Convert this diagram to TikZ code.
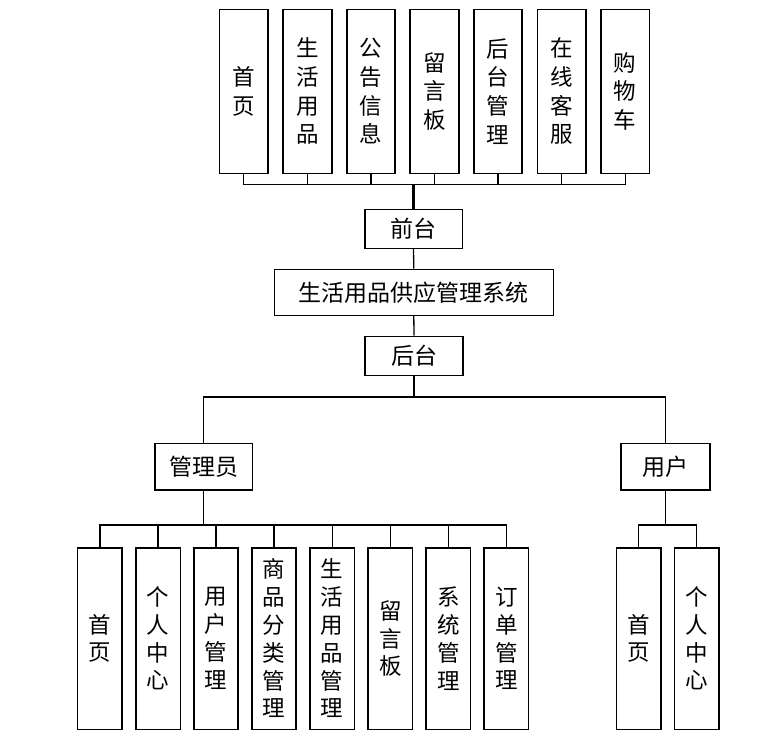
\documentclass[tikz,border=0pt]{standalone}
\usepackage{fontspec}
\newfontfamily\cjk{Noto Sans CJK SC}
\begin{document}
\begin{tikzpicture}[x=1pt,y=-1pt,
  box/.style={draw, line width=1.6pt, inner sep=0pt, align=center, fill=white},
  hbox/.style={box, font=\cjk\fontsize{23}{28}\selectfont},
  tbox/.style={box, minimum width=48.5pt, minimum height=164pt, font=\cjk\fontsize{22.5}{28.7}\selectfont},
  bbox/.style={box, minimum width=44.5pt, minimum height=181.6pt, font=\cjk\fontsize{22.5}{27.8}\selectfont},
  conn/.style={line width=1.3pt},
  trunk/.style={line width=2.4pt}]
\useasboundingbox (0,0) rectangle (770,740);
% top level
\node[tbox] (t1) at (243.8,91.3) {首\\页};
\node[tbox] (t2) at (307.5,91.3) {生\\活\\用\\品};
\node[tbox] (t3) at (371.0,91.3) {公\\告\\信\\息};
\node[tbox] (t4) at (434.5,91.3) {留\\言\\板};
\node[tbox] (t5) at (498.0,91.3) {后\\台\\管\\理};
\node[tbox] (t6) at (561.8,91.3) {在\\线\\客\\服};
\node[tbox] (t7) at (625.2,91.3) {购\\物\\车};
\coordinate (tb) at (413.5,184.3);
\node[hbox, minimum width=97.6pt, minimum height=39pt] (qt) at (413.5,228.8) {前台};
\node[hbox, minimum width=279pt, minimum height=46pt] (sys) at (413.8,292.3) {生活用品供应管理系统};
\node[hbox, minimum width=98.5pt, minimum height=39pt] (ht) at (414,355.8) {后台};
\coordinate (hb) at (414,397);
\node[hbox, minimum width=97.7pt, minimum height=46.7pt] (admin) at (203.7,466.7) {管理员};
\node[hbox, minimum width=89.2pt, minimum height=46.7pt] (user) at (665.4,466.7) {用户};
\coordinate (ab) at (203.7,525);
\coordinate (ub) at (667.7,525);
% bottom
\node[bbox] (a1) at (99.9,638.5) {首\\页};
\node[bbox] (a2) at (158.1,638.5) {个\\人\\中\\心};
\node[bbox] (a3) at (216.0,638.5) {用\\户\\管\\理};
\node[bbox] (a4) at (274.0,638.5) {商\\品\\分\\类\\管\\理};
\node[bbox] (a5) at (332.2,638.5) {生\\活\\用\\品\\管\\理};
\node[bbox] (a6) at (390.4,638.5) {留\\言\\板};
\node[bbox] (a7) at (448.4,638.5) {系\\统\\管\\理};
\node[bbox] (a8) at (506.4,638.5) {订\\单\\管\\理};
\node[bbox] (u1) at (638.7,638.5) {首\\页};
\node[bbox] (u2) at (696.7,638.5) {个\\人\\中\\心};
% connectors
\foreach \n in {t1,t2,t3,t4,t5,t6,t7} \draw[conn] (\n.south) |- (tb);
\draw[trunk] (tb) -- (qt.north);
\draw[conn] (qt.south) -- (sys.north);
\draw[conn] (sys.south) -- (ht.north);
\draw[conn] (ht.south) -- (hb);
\draw[conn] (admin.north) |- (hb) -| (user.north);
\draw[conn] (admin.south) -- (ab);
\foreach \n in {a1,a2,a3,a4,a5,a6,a7,a8} \draw[conn] (\n.north) |- (ab);
\draw[conn] (user.south |- ub) -- (ub);
\draw[conn] (user.south) -- (user.south |- ub);
\foreach \n in {u1,u2} \draw[conn] (\n.north) |- (ub);
\end{tikzpicture}
\end{document}
